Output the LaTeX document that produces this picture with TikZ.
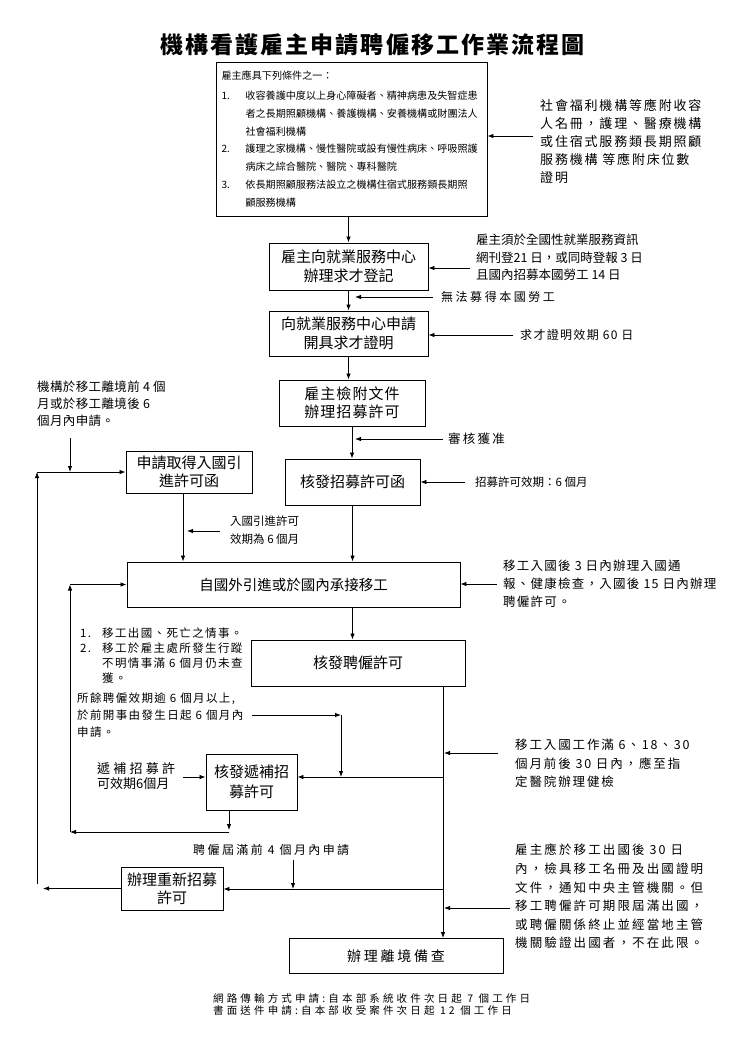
\documentclass[tikz,border=0pt]{standalone}
\usepackage{fontspec}
\setmainfont{Noto Sans CJK TC}
\usetikzlibrary{arrows.meta}
\newcommand\myls[1]{\addfontfeature{LetterSpace=#1}}
\begin{document}
\begin{tikzpicture}[x=1pt,y=-1pt,
  procbox/.style={draw, line width=0.9pt, inner sep=0pt, align=center, font=\fontsize{15}{18.5}\selectfont},
  txt/.style={inner sep=0pt, anchor=west, align=left},
  arr/.style={-{Latex[length=6pt,width=4.5pt]}, line width=0.8pt}]
\fill[white] (0,0) rectangle (745,1053);
\useasboundingbox (0,0) rectangle (745,1053);

% title
\node[font={\fontsize{23}{23}\selectfont\bfseries\myls{9}}] (title) at (372.5,45) {機構看護雇主申請聘僱移工作業流程圖};

% top requirement box
\node[draw, line width=0.9pt, minimum width=271pt, minimum height=154pt, text width=260pt,
      inner xsep=5.5pt, inner ysep=0pt, align=left, font=\fontsize{10.1}{17.8}\selectfont] (req) at (351.5,139)
 {雇主應具下列條件之一：\\[2pt]
  \makebox[24pt][l]{1.}收容養護中度以上身心障礙者、精神病患及失智症患\\
  \hspace*{24pt}者之長期照顧機構、養護機構、安養機構或財團法人\\
  \hspace*{24pt}社會福利機構\\
  \makebox[24pt][l]{2.}護理之家機構、慢性醫院或設有慢性病床、呼吸照護\\
  \hspace*{24pt}病床之綜合醫院、醫院、專科醫院\\
  \makebox[24pt][l]{3.}依長期照顧服務法設立之機構住宿式服務類長期照\\
  \hspace*{24pt}顧服務機構};

\node[txt, font={\fontsize{13}{18}\selectfont\myls{14}}] (reqnote) at (540,141)
 {社會福利機構等應附收容\\人名冊，護理、醫療機構\\或住宿式服務類長期照顧\\服務機構 等應附床位數\\證明};
\coordinate (a0) at (533,136);
\draw[arr] (a0) -- (a0 -| req.east);

% b1
\node[procbox, minimum width=159pt, minimum height=47pt] (b1) at (348.5,266.5) {雇主向就業服務中心\\辦理求才登記};
\draw[arr] (b1.north |- req.south) -- (b1.north);
\node[txt, font=\fontsize{12.5}{17.5}\selectfont] (n1) at (476,257.5)
 {雇主須於全國性就業服務資訊\\網刊登21 日，或同時登報 3 日\\且國內招募本國勞工 14 日};
\coordinate (a1) at (470,268);
\draw[arr] (a1) -- (a1 -| b1.east);

% b2
\node[procbox, minimum width=159pt, minimum height=45pt] (b2) at (348.5,333.5) {向就業服務中心申請\\開具求才證明};
\draw[arr] (b1.south) -- (b2.north);
\node[txt, font={\fontsize{12}{14}\selectfont\myls{21}}] (n2) at (441,297) {無法募得本國勞工};
\coordinate (a2) at (433,297);
\coordinate (a2e) at (355,297);
\draw[arr] (a2) -- (a2e);
\node[txt, font={\fontsize{12}{14}\selectfont\myls{11}}] (n3) at (520,335) {求才證明效期 60 日};
\coordinate (a3) at (513,335);
\draw[arr] (a3) -- (a3 -| b2.east);

% b3
\node[procbox, minimum width=146pt, minimum height=46pt, font={\fontsize{15}{18}\selectfont\myls{7}}] (b3) at (352,403) {雇主檢附文件\\辦理招募許可};
\draw[arr] (b2.south) -- (b2.south |- b3.north);
\node[txt, font={\fontsize{12.5}{17}\selectfont\myls{3}}] (n4) at (37,404)
 {機構於移工離境前 4 個\\月或於移工離境後 6\\個月內申請。};

% b4
\node[procbox, minimum width=135pt, minimum height=46pt] (b4) at (352.5,482) {核發招募許可函};
\draw[arr] (b3.south) -- (b3.south |- b4.north);
\node[txt, font={\fontsize{12.5}{14}\selectfont\myls{18}}] (n5) at (448,439) {審核獲准};
\coordinate (a5) at (443,439);
\coordinate (a5e) at (355,439);
\draw[arr] (a5) -- (a5e);
\node[txt, font=\fontsize{11.5}{14}\selectfont] (n6) at (475,482) {招募許可效期：6 個月};
\coordinate (a6) at (465,482);
\draw[arr] (a6) -- (a6 -| b4.east);

% b5
\node[procbox, minimum width=126pt, minimum height=42pt] (b5) at (189,472) {申請取得入國引\\進許可函};
\coordinate (a7) at (70,438);
\draw[arr] (a7) -- (a7 |- b5.west);
\coordinate (L1b) at (37,884);
\draw[arr] (L1b) -- (L1b |- b5.west);
\draw[arr] (L1b |- b5.west) -- (b5.west);

% b7
\node[procbox, minimum width=333pt, minimum height=45pt, font=\fontsize{14.5}{18}\selectfont] (b7) at (293.5,584.5) {自國外引進或於國內承接移工};
\draw[arr] ([xshift=-6pt]b5.south) -- ([xshift=-6pt]b5.south |- b7.north);
\node[txt, font=\fontsize{11.5}{18}\selectfont] (n7) at (230,530) {入國引進許可\\效期為 6 個月};
\coordinate (a8) at (220,531);
\coordinate (a8e) at (187,531);
\draw[arr] (a8) -- (a8e);
\draw[arr] (b4.south) -- (b4.south |- b7.north);
\node[txt, font={\fontsize{12.5}{18}\selectfont\myls{10}}] (n8) at (503,584)
 {移工入國後 3 日內辦理入國通\\報、健康檢查，入國後 15 日內辦理\\聘僱許可。};
\coordinate (a9) at (497,584);
\draw[arr] (a9) -- (a9 -| b7.east);
\coordinate (L2b) at (70,832);
\draw[arr] (L2b) -- (L2b |- b7.west);
\draw[arr] (L2b |- b7.west) -- (b7.west);

% b8
\node[procbox, minimum width=214pt, minimum height=46pt] (b8) at (358,663) {核發聘僱許可};
\draw[arr] (b7.south -| b4.south) -- (b8.north -| b4.south);
\node[txt, font={\fontsize{11.5}{15}\selectfont\myls{12}}] (n9) at (80,655.5)
 {\makebox[22pt][l]{1.}移工出國、死亡之情事。\\
  \makebox[22pt][l]{2.}移工於雇主處所發生行蹤\\
  \hspace*{22pt}不明情事滿 6 個月仍未查\\
  \hspace*{22pt}獲。};
\node[txt, font={\fontsize{11.5}{17}\selectfont\myls{12}}] (n10) at (77,715)
 {所餘聘僱效期逾 6 個月以上,\\於前開事由發生日起 6 個月內\\申請。};

% b9
\node[procbox, minimum width=91pt, minimum height=56pt, font=\fontsize{15}{20}\selectfont] (b9) at (251.5,782) {核發遞補招\\募許可};
\coordinate (a10) at (252,715);
\coordinate (a10c) at (341,715);
\coordinate (h9) at (443,777);
\draw[arr] (a10) -- (a10c);
\draw[arr] (a10c) -- (a10c |- h9);
\draw[arr] (h9) -- (h9 -| b9.east);
\node[txt, font=\fontsize{13}{15}\selectfont] (n11) at (97,776) {{\myls{25}遞補招募許}\\可效期6個月};
\coordinate (a11) at (183,777);
\draw[arr] (a11) -- (a11 -| b9.west);
\coordinate (d9) at (229,810);
\coordinate (d9e) at (229,830);
\draw[arr] (d9) -- (d9e);
\coordinate (h9b) at (229,832);
\draw[arr] (h9b) -- (L2b);

% big vertical
\node[procbox, minimum width=214pt, minimum height=35pt, font={\fontsize{14}{18}\selectfont\myls{20}}] (b11) at (396,956) {辦理離境備查};
\coordinate (vx) at (443,0);
\draw[arr] (b8.south -| vx) -- (b11.north -| vx);

\node[txt, font={\fontsize{12.5}{18.5}\selectfont\myls{15}}] (n12) at (515,763.5)
 {移工入國工作滿 6、18、30\\個月前後 30 日內，應至指\\定醫院辦理健檢};
\coordinate (a12) at (498,753);
\coordinate (a12e) at (444,753);
\draw[arr] (a12) -- (a12e);

% b10
\node[procbox, minimum width=102pt, minimum height=43pt] (b10) at (172,888.5) {辦理重新招募\\許可};
\node[txt, font={\fontsize{12}{14}\selectfont\myls{20}}] (n13) at (193,850) {聘僱屆滿前 4 個月內申請};
\coordinate (a13) at (293,860);
\coordinate (h10) at (443,889);
\draw[arr] (a13) -- (a13 |- h10);
\draw[arr] (h10) -- (h10 -| b10.east);
\coordinate (a14) at (43,888.5);
\draw[arr] (b10.west) -- (a14);

\node[txt, font={\fontsize{12.5}{18.6}\selectfont\myls{17}}] (n14) at (515,896.5)
 {雇主應於移工出國後 30 日\\內，檢具移工名冊及出國證明\\文件，通知中央主管機關。但\\移工聘僱許可期限屆滿出國，\\或聘僱關係終止並經當地主管\\機關驗證出國者，不在此限。};
\coordinate (a15) at (510,908);
\coordinate (a15e) at (444,908);
\draw[arr] (a15) -- (a15e);

% footer
\node[txt, font={\fontsize{10.5}{11.5}\selectfont\myls{30}}] (foot) at (213,1004.5)
 {網路傳輸方式申請:自本部系統收件次日起 7 個工作日\\書面送件申請:自本部收受案件次日起 12 個工作日};
\end{tikzpicture}
\end{document}
